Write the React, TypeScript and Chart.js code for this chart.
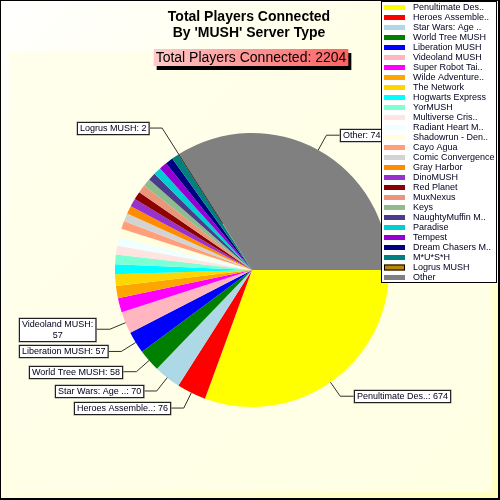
import { useEffect, useRef } from 'react';
import { Chart, registerables } from 'chart.js';

Chart.register(...registerables);

const FONT = '"Liberation Sans", Arial, sans-serif';

const servers = [
  'Penultimate Des..', 'Heroes Assemble..', 'Star Wars: Age ..', 'World Tree MUSH', 'Liberation MUSH',
  'Videoland MUSH', 'Super Robot Tai..', 'Wilde Adventure..', 'The Network', 'Hogwarts Express',
  'YorMUSH', 'Multiverse Cris..', 'Radiant Heart M..', 'Shadowrun - Den..', 'Cayo Agua',
  'Comic Convergence', 'Gray Harbor', 'DinoMUSH', 'Red Planet', 'MuxNexus',
  'Keys', 'NaughtyMuffin M..', 'Paradise', 'Tempest', 'Dream Chasers M..',
  'M*U*S*H', 'Logrus MUSH', 'Other',
];
const players = [
  674, 76, 70, 58, 57,
  57, 37, 32, 30, 26,
  25, 23, 22, 22, 21,
  21, 21, 21, 21, 21,
  20, 20, 20, 20, 20,
  19, 2, 748,
];
const colors = [
  '#FFFF00', '#FF0000', '#ADD8E6', '#008000', '#0000FF',
  '#FFB6C1', '#FF00FF', '#FFA500', '#FFD700', '#00FFFF',
  '#7FFFD4', '#FFE4E1', '#F0FFFF', '#FFFFE0', '#FFA07A',
  '#D3D3D3', '#FF8C00', '#9932CC', '#8B0000', '#E9967A',
  '#8FBC8F', '#483D8B', '#00CED1', '#9400D3', '#000080',
  '#008080', '#B8860B', '#808080',
];
const titleLines = ['Total Players Connected', "By 'MUSH' Server Type"];

const total = players.reduce((a, b) => a + b, 0);

// backgrounds, callouts, title and legend are drawn around the pie
const decorations = {
  id: 'decorations',
  beforeDraw(chart: Chart) {
    const { ctx, width, height } = chart;
    ctx.save();
    const g = ctx.createLinearGradient(0, 0, width, height);
    g.addColorStop(0, '#FFFFFF');
    g.addColorStop(1, '#FFFFC4');
    ctx.fillStyle = g;
    ctx.fillRect(0, 0, width, height);
    const g2 = ctx.createLinearGradient(9, 51, 492, 492);
    g2.addColorStop(0, '#FFFFEC');
    g2.addColorStop(1, '#FFFFE4');
    ctx.fillStyle = g2;
    ctx.fillRect(9, 51, 483, 441);
    ctx.restore();
  },
  afterDatasetsDraw(chart: Chart) {
    const { ctx, width, height } = chart;
    const meta = chart.getDatasetMeta(0);
    ctx.save();
    ctx.font = `9px ${FONT}`;
    ctx.textBaseline = 'middle';

    // callout labels
    meta.data.forEach((el: any, i: number) => {
      const v = players[i];
      if (!(v >= 50 || v < 5)) return;
      const { x, y, outerRadius: r, startAngle, endAngle } = el;
      const a = (startAngle + endAngle) / 2;
      const cos = Math.cos(a), sin = Math.sin(a);
      const ext = v < 5 ? 31 : 17;
      const from = v < 5 ? r * 0.4 : r;
      const ex = x + (r + ext) * cos, ey = y + (r + ext) * sin;
      const dir = cos >= 0 ? 1 : -1;
      const hx = ex + dir * 14;
      ctx.strokeStyle = '#303030';
      ctx.lineWidth = 1;
      ctx.beginPath();
      ctx.moveTo(x + from * cos, y + from * sin);
      ctx.lineTo(ex, ey);
      ctx.lineTo(hx, ey);
      ctx.stroke();

      const text = `${servers[i]}: ${v}`;
      let lines = [text];
      let w = ctx.measureText(text).width + 5;
      if (dir < 0 && hx - w < 12) {
        lines = [`${servers[i]}:`, `${v}`];
        w = Math.max(...lines.map((l) => ctx.measureText(l).width)) + 5;
      }
      const h = lines.length * 11 + 1;
      const bx = Math.round(dir > 0 ? hx : hx - w) + 0.5;
      const by = Math.round(ey - h / 2) + 0.5;
      ctx.fillStyle = '#9A9A9A';
      ctx.fillRect(bx - 1, by - 1, w + 2, h + 2);
      ctx.fillStyle = '#FFFFFF';
      ctx.fillRect(bx, by, w, h);
      ctx.strokeStyle = '#202020';
      ctx.strokeRect(bx, by, w, h);
      ctx.fillStyle = '#000018';
      ctx.textAlign = 'center';
      lines.forEach((l, k) => ctx.fillText(l, bx + w / 2, by + 6.5 + k * 11));
    });

    // title
    ctx.fillStyle = '#000000';
    ctx.textAlign = 'center';
    ctx.font = `bold 14px ${FONT}`;
    titleLines.forEach((l, k) => ctx.fillText(l, 249, 17 + k * 16));

    // total box with shadow
    ctx.font = `14px ${FONT}`;
    const sub = `Total Players Connected: ${total}`;
    const sw = ctx.measureText(sub).width + 4;
    const sx = 251 - sw / 2;
    ctx.fillStyle = '#000000';
    ctx.fillRect(sx + 3, 53, sw, 17);
    const sg = ctx.createLinearGradient(sx, 0, sx + sw, 0);
    sg.addColorStop(0, '#FFCACA');
    sg.addColorStop(1, '#FF6262');
    ctx.fillStyle = sg;
    ctx.fillRect(sx, 49, sw, 17);
    ctx.fillStyle = '#000000';
    ctx.fillText(sub, 251, 58);

    // legend
    ctx.fillStyle = '#FFFFFF';
    ctx.fillRect(381.5, 1.5, 115, 281);
    ctx.strokeStyle = '#000000';
    ctx.lineWidth = 1;
    ctx.strokeRect(381.5, 1.5, 115, 281);
    ctx.font = `9px ${FONT}`;
    ctx.textAlign = 'left';
    servers.forEach((s, i) => {
      const ry = 7.5 + i * 10;
      ctx.fillStyle = colors[i];
      if (players[i] < 5) {
        ctx.fillRect(384, ry - 3, 21, 6);
        ctx.strokeStyle = '#000000';
        ctx.strokeRect(384.5, ry - 2.5, 20, 5);
      } else {
        ctx.fillRect(384, ry - 2.5, 21, 5);
      }
      ctx.fillStyle = '#000020';
      ctx.fillText(s, 413, ry);
    });

    // frame
    ctx.strokeStyle = '#000000';
    ctx.strokeRect(0.5, 0.5, width - 1, height - 1);
    ctx.fillStyle = '#000000';
    ctx.fillRect(width - 2, 0, 2, height);
    ctx.fillRect(0, height - 2, width, 2);
    ctx.restore();
  },
};

export default function App() {
  const ref = useRef<HTMLCanvasElement>(null);
  const chartRef = useRef<Chart | null>(null);

  useEffect(() => {
    if (!ref.current) return;
    document.body.style.margin = '0';
    chartRef.current?.destroy();
    chartRef.current = new Chart(ref.current, {
      type: 'pie',
      data: {
        labels: servers,
        datasets: [{ data: players, backgroundColor: colors, borderWidth: 0 }],
      },
      options: {
        responsive: false, animation: false, rotation: 90,
        layout: { padding: { left: 115, right: 111, top: 133, bottom: 93 } },
        plugins: { legend: { display: false }, tooltip: { enabled: false }, title: { display: false } },
      },
      plugins: [decorations],
    });
    return () => { chartRef.current?.destroy(); };
  }, []);

  return (
    <div style={{ width: 500, height: 500 }}>
      <canvas ref={ref} width={500} height={500} />
    </div>
  );
}
